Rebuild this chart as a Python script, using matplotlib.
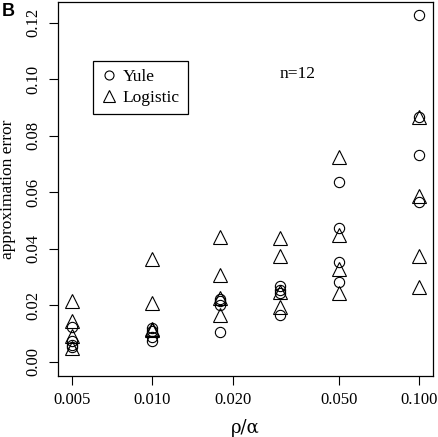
import numpy as np
import matplotlib.pyplot as plt
from matplotlib.lines import Line2D

# ratio rho/alpha (log axis)
ratios = [0.005, 0.010, 0.018, 0.030, 0.050, 0.100]

# approximation error, 4 replicates per ratio
yule = [
    [0.0125, 0.0072, 0.0054, 0.0060],
    [0.0119, 0.0108, 0.0089, 0.0072],
    [0.0223, 0.0214, 0.0202, 0.0105],
    [0.0270, 0.0255, 0.0243, 0.0166],
    [0.0638, 0.0475, 0.0353, 0.0284],
    [0.1226, 0.0866, 0.0733, 0.0567],
]
logistic = [
    [0.0217, 0.0143, 0.0090, 0.0050],
    [0.0364, 0.0210, 0.0113, 0.0115],
    [0.0441, 0.0308, 0.0225, 0.0166],
    [0.0437, 0.0375, 0.0247, 0.0193],
    [0.0724, 0.0449, 0.0328, 0.0243],
    [0.0866, 0.0587, 0.0373, 0.0264],
]

xticks = [0.005, 0.010, 0.020, 0.050, 0.100]
yticks = [0.00, 0.02, 0.04, 0.06, 0.08, 0.10, 0.12]

plt.rcParams['font.family'] = 'Liberation Serif'
fig = plt.figure(figsize=(4.38, 4.37), dpi=100)
ax = fig.add_axes([0.132, 0.14, 0.857, 0.855])

for r, ys in zip(ratios, yule):
    ax.plot([r] * len(ys), ys, 'o', ms=7.4, mfc='none', mec='black', mew=0.8)
for r, ys in zip(ratios, logistic):
    ax.plot([r] * len(ys), ys, '^', ms=9.6, mfc='none', mec='black', mew=0.8)

ax.set_xscale('log')
ax.set_xlim(10 ** -2.353, 10 ** -0.948)
ax.set_ylim(-0.00495, 0.1273)
ax.set_xticks(xticks)
ax.set_xticklabels([f"{t:.3f}" for t in xticks])
ax.xaxis.set_minor_locator(plt.NullLocator())
ax.set_yticks(yticks)
ax.set_yticklabels([f"{t:.2f}" for t in yticks], rotation=90, va='center')
ax.tick_params(direction='out', length=6.5, width=0.8, labelsize=12, pad=5)
for s in ax.spines.values():
    s.set_linewidth(0.9)

ax.set_xlabel("ρ/α", fontsize=13, family='DejaVu Serif', labelpad=8)
ax.set_ylabel("approximation error", fontsize=12.5, labelpad=7)

handles = [
    Line2D([], [], ls='none', marker='o', ms=6.5, mfc='none', mec='black', mew=0.8),
    Line2D([], [], ls='none', marker='^', ms=8.5, mfc='none', mec='black', mew=0.8),
]
leg = ax.legend(handles, ["Yule", "Logistic"], loc='upper left',
                bbox_to_anchor=(0.0925, 0.843), fancybox=False, framealpha=1,
                edgecolor='black', fontsize=12.5, handlelength=1.0,
                handletextpad=0.3, borderpad=0.45, labelspacing=0.3,
                borderaxespad=0)
leg.get_frame().set_linewidth(0.9)

ax.text(0.64, 0.807, "n=12", transform=ax.transAxes, fontsize=12.5,
        ha='center', va='center')

fig.text(0.005, 0.993, "B", fontsize=13, fontweight='bold',
         family='Liberation Sans', ha='left', va='top')

fig.savefig("out.png", dpi=100)
